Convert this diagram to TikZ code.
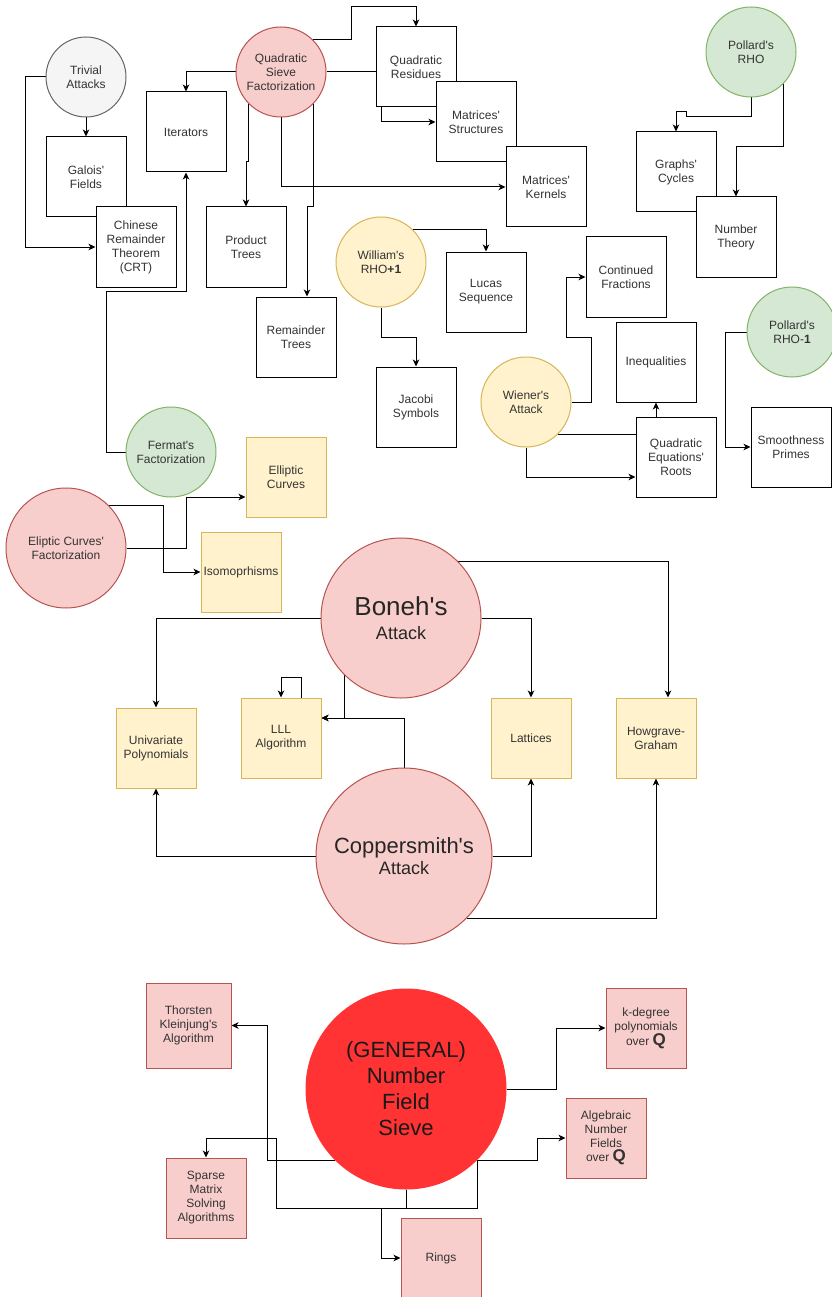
\documentclass[tikz,border=0pt]{standalone}
\usepackage{fontspec}
\setmainfont{Liberation Sans}[Ligatures=TeXOff]
\usetikzlibrary{arrows.meta, backgrounds}
\definecolor{txt}{HTML}{333333}
\definecolor{grayfill}{HTML}{F5F5F5}
\definecolor{graydraw}{HTML}{666666}
\definecolor{redfill}{HTML}{F8CECC}
\definecolor{reddraw}{HTML}{B85450}
\definecolor{greenfill}{HTML}{D5E8D4}
\definecolor{greendraw}{HTML}{82B366}
\definecolor{yellowfill}{HTML}{FFF2CC}
\definecolor{yellowdraw}{HTML}{D6B656}
\definecolor{nfsred}{HTML}{FF3333}
\newcommand{\bigQ}{{\fontsize{17}{17}\selectfont\bfseries Q}}

\begin{document}
\begin{tikzpicture}[
  x=1pt, y=-1pt,
  every node/.style={font=\fontsize{12}{14}\selectfont, text=txt,
    align=center, inner sep=0pt, line width=1pt},
  wbox/.style={rectangle, draw=black, fill=white,
    minimum width=80pt, minimum height=80pt},
  ybox/.style={rectangle, draw=yellowdraw, fill=yellowfill,
    minimum width=80pt, minimum height=80pt},
  rbox/.style={rectangle, draw=reddraw, fill=redfill,
    minimum width=80pt, minimum height=80pt},
  grayc/.style={circle, draw=graydraw, fill=grayfill},
  redc/.style={circle, draw=reddraw, fill=redfill},
  greenc/.style={circle, draw=greendraw, fill=greenfill},
  yellowc/.style={circle, draw=yellowdraw, fill=yellowfill},
  nfsc/.style={circle, draw=nfsred, fill=nfsred, text=black!90},
  arr/.style={-{Stealth[length=7pt,width=6.5pt,inset=2pt]}, line width=1pt, draw=black}
]
  \useasboundingbox (0,0) rectangle (831,1297);

  % factorisation methods, upper part
  \node[grayc, minimum size=80pt] (triv) at (86,77) {Trivial\\Attacks};
  \node[wbox] (galois) at (86,177) {Galois'\\Fields};
  \node[wbox] (crt) at (136,247) {Chinese\\Remainder\\Theorem\\(CRT)};
  \node[wbox] (iter) at (186,132) {Iterators};
  \node[redc, minimum size=90pt] (qsieve) at (281,72) {Quadratic\\Sieve\\Factorization};
  \node[wbox] (qres) at (416,67) {Quadratic\\Residues};
  \node[wbox] (mstruct) at (476,122) {Matrices'\\Structures};
  \node[wbox] (mkern) at (546,187) {Matrices'\\Kernels};
  \node[wbox] (prodt) at (246,247) {Product\\Trees};
  \node[wbox] (remt) at (296,337) {Remainder\\Trees};
  \node[greenc, minimum size=90pt] (rho) at (751,52) {Pollard's\\RHO};
  \node[wbox] (cycles) at (676,172) {Graphs'\\Cycles};
  \node[wbox] (ntheory) at (736,237) {Number\\Theory};
  \node[yellowc, minimum size=90pt] (william) at (381,262) {William's\\RHO\textbf{+1}};
  \node[wbox] (lucas) at (486,292) {Lucas\\Sequence};
  \node[wbox] (jacobi) at (416,407) {Jacobi\\Symbols};
  \node[wbox] (contfr) at (626,277) {Continued\\Fractions};
  \node[wbox] (ineq) at (656,362) {Inequalities};
  \node[yellowc, minimum size=90pt] (wiener) at (526,402) {Wiener's\\Attack};
  \node[wbox] (qroots) at (676,457) {Quadratic\\Equations'\\Roots};
  \node[greenc, minimum size=90pt] (rhoone) at (792,332) {Pollard's\\RHO-\textbf{1}};
  \node[wbox] (smooth) at (791,447) {Smoothness\\Primes};
  \node[greenc, minimum size=90pt] (fermat) at (171,452) {Fermat's\\Factorization};
  \node[ybox] (ecurves) at (286,477) {Elliptic\\Curves};
  \node[redc, minimum size=120pt] (ecfact) at (66,548) {Eliptic Curves'\\Factorization};
  \node[ybox] (isom) at (241,572) {Isomoprhisms};

  % lattice attacks
  \node[redc, minimum size=160pt, text=black!85, font=\fontsize{26}{24}\selectfont]
    (boneh) at (401,618) {Boneh's\\{\fontsize{18}{18}\selectfont Attack}};
  \node[redc, minimum size=176pt, text=black!85, font=\fontsize{22}{21}\selectfont]
    (copper) at (404,856) {Coppersmith's\\{\fontsize{18}{18}\selectfont Attack}};
  \node[ybox] (univ) at (156,748) {Univariate\\Polynomials};
  \node[ybox] (lll) at (281,738) {LLL\\Algorithm};
  \node[ybox] (lattice) at (531,738) {Lattices};
  \node[ybox] (howgr) at (656,738) {Howgrave-\\Graham};

  % number field sieve
  \node[nfsc, minimum size=200pt, font=\fontsize{22}{26}\selectfont]
    (nfs) at (406,1089) {(GENERAL)\\Number\\Field\\Sieve};
  \node[rbox, minimum size=85pt] (thor) at (188.5,1025.5) {Thorsten\\Kleinjung's\\Algorithm};
  \node[rbox] (sparse) at (206,1198) {Sparse\\Matrix\\Solving\\Algorithms};
  \node[rbox] (rings) at (441,1258) {Rings};
  \node[rbox] (kdeg) at (646,1028) {k-degree\\polynomials\\over \bigQ};
  \node[rbox] (algnf) at (606,1138) {Algebraic\\Number\\Fields\\over \bigQ};

  \begin{scope}[on background layer]
    \fill[white] (0,0) rectangle (831,1297);

    \draw[arr] (triv) -- (galois);
    \draw[arr] (triv.west) -- ++(-20,0) |- (crt.west);
    \draw[arr] (qsieve.west) -| (iter.north);
    \draw[arr] (qsieve.45) -| (351,7) -| (qres.north);
    \draw[arr] (qsieve.east) -- (381,72) |- (mstruct.west);
    \draw[arr] (qsieve.south) |- (mkern.west);
    \draw[arr] (qsieve.225) |- (246,162) -- (prodt.north);
    \draw[arr] (qsieve.-45) |- (307,207) -- ([xshift=11pt]remt.north);
    \draw[arr] (fermat.west) -| (106,291) -| (iter.south);
    \draw[arr] (william.45) -| (lucas.north);
    \draw[arr] (william.south) -- ++(0,30) -| (jacobi.north);
    \draw[arr] (wiener.east) -| (591,337) -- (566,337) |- (contfr.west);
    \draw[arr] (wiener.-45) -| (ineq.south);
    \draw[arr] (wiener.south) |- ([yshift=-20pt]qroots.west);
    \draw[arr] (rho.south) |- (686,117) |- (676,112) -- (cycles.north);
    \draw[arr] (rho.-45) |- (736,147) -- (ntheory.north);
    \draw[arr] (rhoone.west) -- ++(-21,0) |- (smooth.west);
    \draw[arr] (ecfact.east) -| (186,497) -- ([yshift=-20pt]ecurves.west);
    \draw[arr] (ecfact.45) -- ++(55,0) |- (isom.west);

    \draw[arr] (boneh.west) -| (univ.north);
    \draw[arr] (boneh.east) -| (lattice.north);
    \draw[arr] (boneh.45) -| ([xshift=12pt]howgr.north);
    \draw[arr] (boneh.225) |- ([yshift=20pt]lll.east);
    \draw[arr] ([xshift=20pt]lll.north) -- ++(0,-20) -| (lll.north);
    \draw[arr] (copper.north) |- ([yshift=20pt]lll.east);
    \draw[arr] (copper.west) -| (univ.south);
    \draw[arr] (copper.east) -| (lattice.south);
    \draw[arr] (copper.-45) -| (howgr.south);

    \draw[arr] (nfs.225) -- ++(-67,0) |- (thor.east);
    \draw[arr] (nfs.-45) -- ++(60,0) |- (algnf.west);
    \draw[arr] (nfs.east) -- ++(50,0) |- (kdeg.west);
    \draw[arr] (nfs.-45) |- (276,1208) |- (206,1138) -- (sparse.north);
    \draw[arr] (nfs.south) -- ++(0,19) -- ++(-25,0) |- (rings.west);
  \end{scope}
\end{tikzpicture}
\end{document}
